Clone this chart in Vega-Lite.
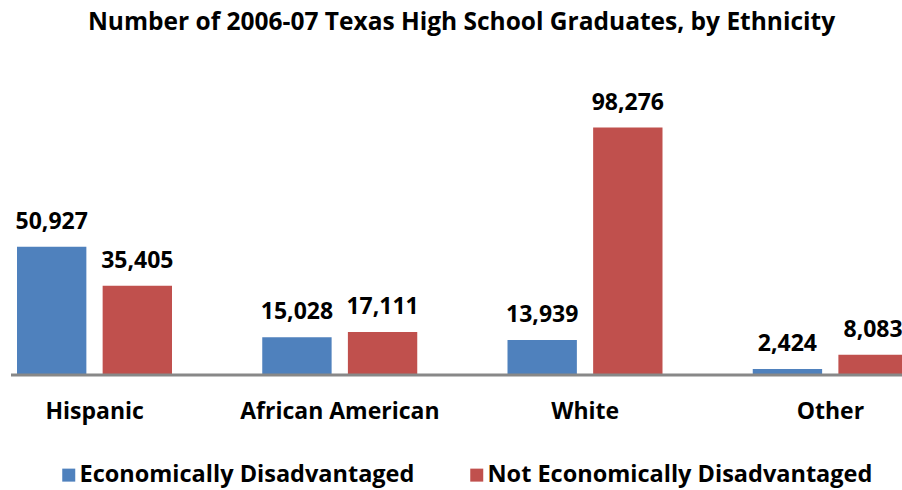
{
  "$schema": "https://vega.github.io/schema/vega-lite/v6.json",
  "width": 891,
  "height": 277,
  "autosize": {"type": "none"},
  "padding": {"left": 11, "top": 98, "right": 0, "bottom": 115},
  "background": "white",
  "config": {"view": {"stroke": null}},
  "title": {
    "text": "Number of 2006-07 Texas High School Graduates, by Ethnicity",
    "font": "Open Sans",
    "fontSize": 24.5,
    "fontWeight": "bold",
    "color": "#000000",
    "anchor": "middle",
    "frame": "group",
    "baseline": "alphabetic",
    "offset": 37,
    "dx": 5
  },
  "data": {
    "values": [
      {"ethnicity": "Hispanic", "group": "Economically Disadvantaged", "count": 50927},
      {"ethnicity": "Hispanic", "group": "Not Economically Disadvantaged", "count": 35405},
      {"ethnicity": "African American", "group": "Economically Disadvantaged", "count": 15028},
      {"ethnicity": "African American", "group": "Not Economically Disadvantaged", "count": 17111},
      {"ethnicity": "White", "group": "Economically Disadvantaged", "count": 13939},
      {"ethnicity": "White", "group": "Not Economically Disadvantaged", "count": 98276},
      {"ethnicity": "Other", "group": "Economically Disadvantaged", "count": 2424},
      {"ethnicity": "Other", "group": "Not Economically Disadvantaged", "count": 8083}
    ]
  },
  "layer": [
    {
      "mark": {"type": "bar"},
      "encoding": {
        "x": {
          "field": "ethnicity",
          "type": "nominal",
          "sort": ["Hispanic", "African American", "White", "Other"],
          "scale": {"range": [-39, 942], "paddingInner": 0.367, "paddingOuter": 0.1835},
          "axis": {
            "title": null,
            "domain": false,
            "ticks": false,
            "labelAngle": 0,
            "labelFont": "Open Sans",
            "labelFontSize": 23,
            "labelFontWeight": "bold",
            "labelColor": "#000000",
            "labelBaseline": "alphabetic",
            "labelPadding": 43,
            "labelLimit": 400
          }
        },
        "xOffset": {
          "field": "group",
          "type": "nominal",
          "sort": ["Economically Disadvantaged", "Not Economically Disadvantaged"],
          "scale": {"range": [0, 155], "paddingInner": 0.19, "paddingOuter": 0}
        },
        "y": {
          "field": "count",
          "type": "quantitative",
          "scale": {"domain": [0, 110000]},
          "axis": null
        },
        "color": {
          "field": "group",
          "type": "nominal",
          "sort": ["Economically Disadvantaged", "Not Economically Disadvantaged"],
          "scale": {"range": ["#4F81BD", "#C0504D"]},
          "legend": {
            "title": null,
            "orient": "none",
            "legendX": 46,
            "legendY": 365,
            "padding": 0,
            "direction": "horizontal",
            "symbolType": "square",
            "symbolSize": 169,
            "symbolStrokeWidth": 0,
            "labelFont": "Open Sans",
            "labelFontSize": 23.5,
            "labelFontWeight": "bold",
            "labelColor": "#000000",
            "labelOffset": -1,
            "columnPadding": 50,
            "labelLimit": 500
          }
        }
      }
    },
    {
      "mark": {
        "type": "text",
        "baseline": "alphabetic",
        "dy": -18,
        "font": "Open Sans",
        "fontSize": 23,
        "fontWeight": "bold",
        "color": "#000000"
      },
      "encoding": {
        "x": {"field": "ethnicity", "type": "nominal", "sort": ["Hispanic", "African American", "White", "Other"]},
        "xOffset": {"field": "group", "type": "nominal", "sort": ["Economically Disadvantaged", "Not Economically Disadvantaged"]},
        "y": {"field": "count", "type": "quantitative"},
        "text": {"field": "count", "type": "quantitative", "format": ",d"}
      }
    },
    {
      "data": {"values": [{"base": 0}]},
      "mark": {"type": "rule", "color": "#888888", "strokeWidth": 3},
      "encoding": {"y": {"field": "base", "type": "quantitative"}}
    }
  ]
}
